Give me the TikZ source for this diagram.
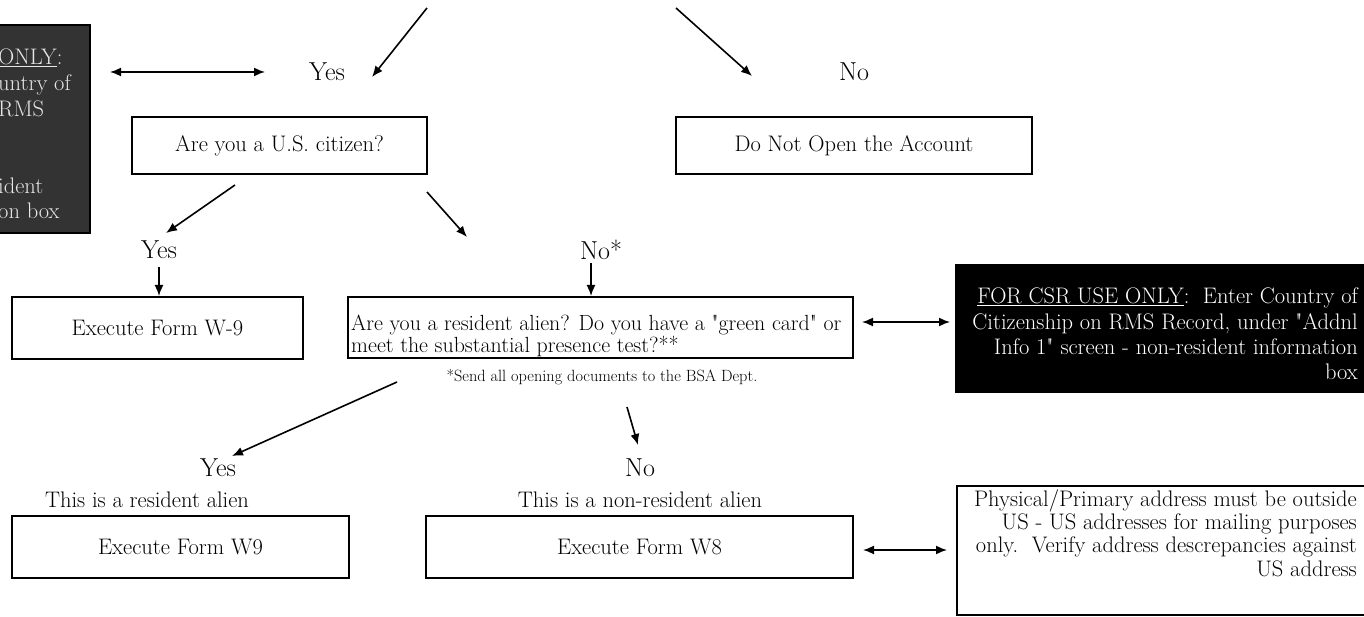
\documentclass[tikz,border=0pt]{standalone}
\usetikzlibrary{arrows.meta}
\definecolor{darkgrey}{HTML}{333333}
\definecolor{lightgrey}{HTML}{E6E6E6}
\begin{document}
\begin{tikzpicture}[x=1pt,y=-1pt,
  box/.style={draw,line width=2pt,rectangle,inner sep=0pt},
  tx/.style={inner sep=0pt,font=\fontsize{22.5}{26}\selectfont},
  tyn/.style={inner sep=0pt,font=\fontsize{26}{30}\selectfont},
  arr/.style={line width=1.6pt,-{Latex[length=11pt,width=9pt]}},
  darr/.style={line width=1.6pt,{Latex[length=11pt,width=9pt]}-{Latex[length=11pt,width=9pt]}}]
\useasboundingbox (0,0) rectangle (1364,617);
\clip (0,0) rectangle (1364,617);
% left dark box (cut off)
\node[box,fill=darkgrey,minimum width=140pt,minimum height=208pt] (lbox) at (20,129) {};
\node[tx,anchor=west,align=left,text=lightgrey,font=\fontsize{22.5}{25.7}\selectfont] (ltxt) at (-2,134)
  {\underline{ONLY}:\\untry of\\RMS\\\mbox{}\\\mbox{}\\ident\\on box};
% labels and boxes
\node[tyn] (yes1) at (327,72) {Yes};
\node[tyn] (no1) at (854,72) {No};
\node[box,minimum width=295pt,minimum height=57pt] (usc) at (279.5,145.5) {};
\node[tx] at (usc) {Are you a U.S. citizen?};
\node[box,minimum width=356pt,minimum height=57pt] (dno) at (854,145.5) {};
\node[tx] at (dno) {Do Not Open the Account};
\node[tyn] (yes2) at (159,250) {Yes};
\node[tyn] (no2) at (601,250) {No*};
\node[box,minimum width=291pt,minimum height=62pt] (w9a) at (157.5,328) {};
\node[tx] at (w9a) {Execute Form W-9};
\node[box,minimum width=505pt,minimum height=61pt] (res) at (600.5,327.5) {};
\node[tx,anchor=west,align=left,font=\fontsize{21.9}{20}\selectfont] (restxt) at (351,336)
  {Are you a resident alien? Do you have a \textquotedbl green card\textquotedbl{} or\\meet the substantial presence test?**};
\node[inner sep=0pt,font=\fontsize{16.3}{18}\selectfont] (note) at (602,377) {*Send all opening documents to the BSA Dept.};
\node[box,fill=black,minimum width=420pt,minimum height=127pt] (bbox) at (1166,328.5) {};
\node[tx,anchor=east,align=right,text=white,font=\fontsize{22.5}{25.3}\selectfont] (btxt) at (1358,334)
  {\underline{FOR CSR USE ONLY}:\ \ Enter Country of\\Citizenship on RMS Record, under \textquotedbl Addnl\\Info 1\textquotedbl{} screen - non-resident information\\box};
\node[tyn] (yes3) at (218,468) {Yes};
\node[tx] (ra) at (147,500) {This is a resident alien};
\node[tyn] (no3) at (640,468) {No};
\node[tx] (nra) at (640,500) {This is a non-resident alien};
\node[box,minimum width=337pt,minimum height=62pt] (w9b) at (180.5,547) {};
\node[tx] at (w9b) {Execute Form W9};
\node[box,minimum width=427pt,minimum height=62pt] (w8) at (639.5,547) {};
\node[tx] at (w8) {Execute Form W8};
\node[box,minimum width=420pt,minimum height=129pt] (pbox) at (1167,550.5) {};
\node[tx,anchor=east,align=right,font=\fontsize{22.5}{23.3}\selectfont] (ptxt) at (1357,533)
  {Physical/Primary address must be outside\\US - US addresses for mailing purposes\\only.\ \ Verify address descrepancies against\\US address};
% connector end points
\coordinate (s1) at (427,8);   \coordinate (e1) at (372,77);
\coordinate (s2) at (676,8);   \coordinate (e2) at (752,76);
\coordinate (s3) at (110,72);  \coordinate (e3) at (265,72);
\coordinate (s4) at (235,185); \coordinate (e4) at (166,233);
\coordinate (s5) at (427,192); \coordinate (e5) at (467,237);
\coordinate (s6) at (159,267);
\coordinate (s7) at (591,263);
\coordinate (s8) at (862,322); \coordinate (e8) at (950,322);
\coordinate (s9) at (397,382); \coordinate (e9) at (232,456);
\coordinate (s10) at (627,407); \coordinate (e10) at (638,445);
\coordinate (s11) at (863,550); \coordinate (e11) at (947,550);
% connectors
\draw[arr] (s1) -- (e1);
\draw[arr] (s2) -- (e2);
\draw[darr] (s3) -- (e3);
\draw[arr] (s4) -- (e4);
\draw[arr] (s5) -- (e5);
\draw[arr] (s6) -- (s6 |- w9a.north);
\draw[arr] (s7) -- (s7 |- res.north);
\draw[darr] (s8) -- (e8);
\draw[arr] (s9) -- (e9);
\draw[arr] (s10) -- (e10);
\draw[darr] (s11) -- (e11);
\end{tikzpicture}
\end{document}
